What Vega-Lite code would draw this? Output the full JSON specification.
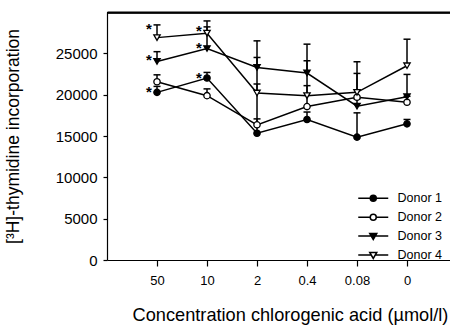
{
  "$schema": "https://vega.github.io/schema/vega-lite/v6.json",
  "width": 344,
  "height": 248,
  "autosize": {"type": "none"},
  "padding": {"left": 107, "top": 12, "right": 0, "bottom": 65},
  "background": "white",
  "config": {
    "font": "Liberation Sans",
    "view": {"stroke": null},
    "axis": {"domainColor": "black", "tickColor": "black", "labelColor": "black", "titleColor": "black", "grid": false, "titleFontWeight": "normal", "domainWidth": 1.2, "tickWidth": 1.2},
    "legend": {"labelColor": "black"}
  },
  "datasets": {
    "main": [
      {"conc": "50", "donor": "Donor 1", "value": 20280, "err": 21000},
      {"conc": "10", "donor": "Donor 1", "value": 22010, "err": 22690},
      {"conc": "2", "donor": "Donor 1", "value": 15340, "err": 17070},
      {"conc": "0.4", "donor": "Donor 1", "value": 16990, "err": 17900},
      {"conc": "0.08", "donor": "Donor 1", "value": 14860, "err": 17800},
      {"conc": "0", "donor": "Donor 1", "value": 16470, "err": 17000},
      {"conc": "50", "donor": "Donor 2", "value": 21570, "err": 22400},
      {"conc": "10", "donor": "Donor 2", "value": 19880, "err": 20700},
      {"conc": "2", "donor": "Donor 2", "value": 16350, "err": 21290},
      {"conc": "0.4", "donor": "Donor 2", "value": 18560, "err": 21090},
      {"conc": "0.08", "donor": "Donor 2", "value": 19680, "err": 22570},
      {"conc": "0", "donor": "Donor 2", "value": 19080, "err": 19800},
      {"conc": "50", "donor": "Donor 3", "value": 24020, "err": 25200},
      {"conc": "10", "donor": "Donor 3", "value": 25580, "err": 28200},
      {"conc": "2", "donor": "Donor 3", "value": 23290, "err": 26510},
      {"conc": "0.4", "donor": "Donor 3", "value": 22620, "err": 26110},
      {"conc": "0.08", "donor": "Donor 3", "value": 18600, "err": 19500},
      {"conc": "0", "donor": "Donor 3", "value": 19760, "err": 22450},
      {"conc": "50", "donor": "Donor 4", "value": 26900, "err": 28440},
      {"conc": "10", "donor": "Donor 4", "value": 27440, "err": 28920},
      {"conc": "2", "donor": "Donor 4", "value": 20200, "err": 24500},
      {"conc": "0.4", "donor": "Donor 4", "value": 19880, "err": 24100},
      {"conc": "0.08", "donor": "Donor 4", "value": 20280, "err": 23980},
      {"conc": "0", "donor": "Donor 4", "value": 23500, "err": 26710}
    ],
    "stars": [
      {"conc": "50", "value": 28440},
      {"conc": "50", "value": 24700},
      {"conc": "50", "value": 20850},
      {"conc": "10", "value": 28200},
      {"conc": "10", "value": 26180},
      {"conc": "10", "value": 22530}
    ],
    "frame": [{"value": 29900}]
  },
  "layer": [
    {
      "data": {"name": "main"},
      "mark": {"type": "rule", "color": "black", "strokeWidth": 1.5},
      "encoding": {
        "x": {
          "field": "conc", "type": "ordinal",
          "sort": ["50", "10", "2", "0.4", "0.08", "0"],
          "scale": {"type": "point", "padding": 0.94, "align": 0.532},
          "axis": {"title": "Concentration chlorogenic acid (µmol/l)", "labelAngle": 0, "labelFontSize": 13, "titleFontSize": 18.2, "tickSize": 6, "labelPadding": 8, "titlePadding": 19, "titleX": 183}
        },
        "y": {"field": "value", "type": "quantitative", "scale": {"domain": [0, 30000], "nice": false},
          "axis": {"title": "[³H]-thymidine incorporation", "values": [0, 5000, 10000, 15000, 20000, 25000], "format": "d", "labelFontSize": 15, "titleFontSize": 17.5, "tickSize": 4, "labelPadding": 6, "titlePadding": 33}},
        "y2": {"field": "err"}
      }
    },
    {
      "data": {"name": "frame"},
      "mark": {"type": "rule", "color": "black", "strokeWidth": 1.8},
      "encoding": {"y": {"field": "value", "type": "quantitative"}}
    },
    {
      "data": {"name": "main"},
      "mark": {"type": "tick", "color": "black", "thickness": 1.5, "size": 7, "orient": "horizontal", "opacity": 1},
      "encoding": {
        "x": {"field": "conc", "type": "ordinal", "sort": ["50", "10", "2", "0.4", "0.08", "0"],
          "axis": {"orient": "top", "labels": false, "ticks": false, "title": null, "domain": true, "domainWidth": 1.8, "domainColor": "black"}},
        "y": {"field": "err", "type": "quantitative"}
      }
    },
    {
      "data": {"name": "main"},
      "mark": {"type": "line", "color": "black", "strokeWidth": 1.5},
      "encoding": {
        "x": {"field": "conc", "type": "ordinal", "sort": ["50", "10", "2", "0.4", "0.08", "0"], "axis": null},
        "y": {"field": "value", "type": "quantitative"},
        "detail": {"field": "donor"}
      }
    },
    {
      "data": {"name": "main"},
      "mark": {"type": "point", "filled": true, "stroke": "black", "strokeWidth": 1.3, "opacity": 1, "size": 40},
      "encoding": {
        "x": {"field": "conc", "type": "ordinal", "sort": ["50", "10", "2", "0.4", "0.08", "0"], "axis": null},
        "y": {"field": "value", "type": "quantitative"},
        "shape": {"field": "donor", "type": "nominal", "scale": {"domain": ["Donor 1", "Donor 2", "Donor 3", "Donor 4"], "range": ["circle", "circle", "triangle-down", "triangle-down"]}, "legend": null},
        "fill": {"field": "donor", "type": "nominal", "scale": {"domain": ["Donor 1", "Donor 2", "Donor 3", "Donor 4"], "range": ["black", "white", "black", "white"]}, "legend": null}
      }
    },
    {
      "data": {"name": "stars"},
      "mark": {"type": "text", "text": "*", "fontSize": 15, "fontWeight": "bold", "color": "black", "dx": -8, "dy": 4, "baseline": "middle", "align": "center"},
      "encoding": {
        "x": {"field": "conc", "type": "ordinal", "sort": ["50", "10", "2", "0.4", "0.08", "0"], "axis": null},
        "y": {"field": "value", "type": "quantitative"}
      }
    },
    {
      "data": {"name": "main"},
      "transform": [{"filter": "false"}],
      "mark": {"type": "point", "filled": false, "stroke": "black", "strokeWidth": 1.5, "opacity": 1},
      "encoding": {
        "x": {"field": "conc", "type": "ordinal", "sort": ["50", "10", "2", "0.4", "0.08", "0"], "axis": null},
        "y": {"field": "value", "type": "quantitative"},
        "shape": {"field": "donor", "type": "nominal",
          "scale": {"domain": ["Donor 1", "Donor 2", "Donor 3", "Donor 4"],
            "range": [
              "M-3,0H3M-0.6,0A0.6,0.6,0,1,1,0.6,0A0.6,0.6,0,1,1,-0.6,0Z",
              "M-3,0H-0.6M0.6,0H3M-0.6,0A0.6,0.6,0,1,1,0.6,0A0.6,0.6,0,1,1,-0.6,0Z",
              "M-3,0H3M-0.7,-0.5L0.7,-0.5L0,0.7Z",
              "M-3,0H-0.41M0.41,0H3M-0.7,-0.5L0.7,-0.5L0,0.7Z"
            ]},
          "legend": {"title": null, "orient": "none", "legendX": 260, "legendY": 180, "labelFontSize": 12.5, "symbolSize": 100, "labelOffset": 18, "rowPadding": 5.9, "padding": 0,
            "encode": {"symbols": {"update": {"stroke": {"value": "black"}, "strokeWidth": {"value": 1.5}}}}}},
        "fill": {"field": "donor", "type": "nominal",
          "scale": {"domain": ["Donor 1", "Donor 2", "Donor 3", "Donor 4"], "range": ["black", "white", "black", "white"]},
          "legend": {"title": null, "orient": "none", "legendX": 260, "legendY": 180, "labelFontSize": 12.5, "symbolSize": 100, "labelOffset": 18, "rowPadding": 5.9, "padding": 0,
            "encode": {"symbols": {"update": {"stroke": {"value": "black"}, "strokeWidth": {"value": 1.5}}}}}}
      }
    }
  ],
  "resolve": {"scale": {"shape": "independent", "fill": "independent"}, "legend": {"shape": "independent", "fill": "independent"}, "axis": {"x": "independent"}}
}
